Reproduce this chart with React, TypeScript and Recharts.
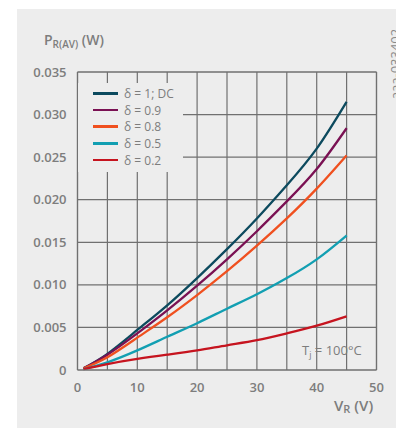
import { LineChart, Line, XAxis, YAxis, CartesianGrid, ReferenceLine } from "recharts";

// V_R (V)
const vr = [1, 5, 10, 15, 20, 25, 30, 35, 40, 45];
// P_R(AV) (W) per duty cycle
const d10 = [0.0002, 0.0019, 0.0047, 0.0076, 0.0108, 0.0142, 0.0178, 0.0217, 0.026, 0.0315];
const d09 = [0.0002, 0.0018, 0.0043, 0.007, 0.0099, 0.013, 0.0163, 0.0198, 0.0236, 0.0284];
const d08 = [0.0002, 0.0015, 0.0038, 0.0062, 0.0088, 0.0116, 0.0146, 0.0178, 0.0213, 0.0252];
const d05 = [0.0001, 0.0009, 0.0023, 0.0039, 0.0055, 0.0072, 0.0089, 0.0108, 0.013, 0.0158];
const d02 = [0.0001, 0.0007, 0.0013, 0.0018, 0.0023, 0.0029, 0.0035, 0.0043, 0.0052, 0.0063];

const xTicks = [0, 5, 10, 15, 20, 25, 30, 35, 40, 45, 50];
const yTicks = [0, 0.005, 0.01, 0.015, 0.02, 0.025, 0.03, 0.035];

const series = [
  { key: "d10", name: "δ = 1; DC", color: "#0c4a5e", values: d10 },
  { key: "d09", name: "δ = 0.9", color: "#7a1153", values: d09 },
  { key: "d08", name: "δ = 0.8", color: "#f0501f", values: d08 },
  { key: "d05", name: "δ = 0.5", color: "#129fb2", values: d05 },
  { key: "d02", name: "δ = 0.2", color: "#c6141f", values: d02 },
];

const data = vr.map((v, i) => {
  const row: Record<string, number> = { vr: v };
  series.forEach((s) => (row[s.key] = s.values[i]));
  return row;
});

const FONT = "'Open Sans', sans-serif";
const BG = "#ededed";
const GRID = "#707070";
const TXT = "#7d7d7d";

export default function App() {
  return (
    <div style={{ position: "relative", width: 404, height: 436, margin: -8, overflow: "hidden", fontFamily: FONT }}>
      <div style={{ position: "absolute", left: 17, top: 9, width: 387, height: 427, background: BG }} />
      <div style={{ position: "absolute", left: 0, top: 0 }}>
        <LineChart width={404} height={436} data={data} margin={{ top: 72, right: 27.5, bottom: 36, left: 0 }}>
          <CartesianGrid stroke={GRID} strokeWidth={1.2} fill={BG} />
          <XAxis
            dataKey="vr"
            type="number"
            domain={[0, 50]}
            ticks={xTicks}
            interval={0}
            height={30}
            tickLine={false}
            axisLine={{ stroke: GRID, strokeWidth: 1.2 }}
            tickMargin={7}
            tickFormatter={(v: number) => (v % 10 === 0 ? String(v) : "")}
            tick={{ fill: TXT, fontSize: 13, fontWeight: 600, fontFamily: FONT }}
          />
          <YAxis
            type="number"
            domain={[0, 0.035]}
            ticks={yTicks}
            interval={0}
            width={77.5}
            tickLine={false}
            axisLine={{ stroke: GRID, strokeWidth: 1.2 }}
            tickMargin={5}
            tickFormatter={(v: number) => (v === 0 ? "0" : v.toFixed(3))}
            tick={{ fill: TXT, fontSize: 13, fontWeight: 600, fontFamily: FONT }}
          />
          <ReferenceLine x={50} stroke={GRID} strokeWidth={1.2} />
          <ReferenceLine y={0.035} stroke={GRID} strokeWidth={1.2} />
          {series.map((s) => (
            <Line
              key={s.key}
              dataKey={s.key}
              name={s.name}
              type="natural"
              stroke={s.color}
              strokeWidth={2.3}
              dot={false}
              isAnimationActive={false}
            />
          ))}
        </LineChart>
      </div>
      {/* legend box hides the grid behind it */}
      <div style={{ position: "absolute", left: 78, top: 83, width: 105, height: 89, background: BG, paddingTop: 2, boxSizing: "border-box" }}>
        {series.map((s) => (
          <div key={s.key} style={{ display: "flex", alignItems: "center", height: 16.7 }}>
            <div style={{ width: 25, height: 2.6, background: s.color, marginLeft: 15, marginRight: 6 }} />
            <span style={{ fontSize: 12, color: TXT, whiteSpace: "nowrap" }}>{s.name}</span>
          </div>
        ))}
      </div>
      <div style={{ position: "absolute", left: 44, top: 30, color: TXT, fontSize: 14, fontWeight: 600, whiteSpace: "nowrap" }}>
        P<span style={{ fontSize: 10, position: "relative", top: 3 }}>R(AV)</span> (W)
      </div>
      <div style={{ position: "absolute", left: 334, top: 395, color: TXT, fontSize: 15, fontWeight: 600, whiteSpace: "nowrap" }}>
        V<span style={{ fontSize: 11, position: "relative", top: 2 }}>R</span> (V)
      </div>
      <div style={{ position: "absolute", left: 302, top: 341, color: TXT, fontSize: 13, whiteSpace: "nowrap" }}>
        T<span style={{ fontSize: 9, position: "relative", top: 3 }}>j</span> = 100°C
      </div>
      <svg style={{ position: "absolute", left: 388, top: 20, overflow: "visible" }} width={16} height={90}>
        <text
          x={0}
          y={0}
          transform="translate(12, 44) rotate(-90)"
          textAnchor="middle"
          fill="#8a8a8a"
          fontSize={13}
          fontFamily={FONT}
        >
          aaa-033402
        </text>
      </svg>
    </div>
  );
}
